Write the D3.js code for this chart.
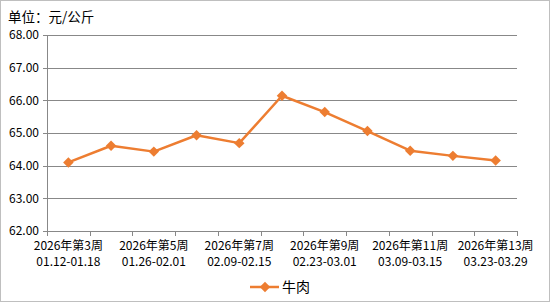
<!DOCTYPE html>
<html>
<head>
<meta charset="utf-8">
<script src="https://cdn.jsdelivr.net/npm/d3@7"></script>
<style>
  body { margin: 0; background: #fff; }
  svg text { font-family: "Noto Sans CJK SC", "DejaVu Sans", sans-serif; fill: #000; }
</style>
</head>
<body>
<svg id="chart"></svg>
<script>
// data
var weeks = ["2026年第3周", "2026年第4周", "2026年第5周", "2026年第6周", "2026年第7周", "2026年第8周",
             "2026年第9周", "2026年第10周", "2026年第11周", "2026年第12周", "2026年第13周"];
var ranges = ["01.12-01.18", "01.19-01.25", "01.26-02.01", "02.02-02.08", "02.09-02.15", "02.16-02.22",
              "02.23-03.01", "03.02-03.08", "03.09-03.15", "03.16-03.22", "03.23-03.29"];
var beef = [64.10, 64.61, 64.43, 64.93, 64.69, 66.14, 65.64, 65.06, 64.46, 64.30, 64.16];
var yTicks = [62, 63, 64, 65, 66, 67, 68];

var W = 550, H = 302;
var margin = { top: 35, right: 33, bottom: 71, left: 47 },
    width = W - margin.left - margin.right,
    height = H - margin.top - margin.bottom;

var svg = d3.select("#chart").attr("width", W).attr("height", H);

// outer border
svg.append("rect")
    .attr("x", 0.5).attr("y", 0.5)
    .attr("width", W - 1).attr("height", H - 1)
    .attr("fill", "#fff").attr("stroke", "#bfbfbf");

svg.append("text")
    .attr("x", 8).attr("y", 22)
    .attr("font-size", "13.5px")
    .text("单位：元/公斤");

var g = svg.append("g")
    .attr("transform", "translate(" + margin.left + "," + margin.top + ")");

var x = d3.scaleBand().domain(d3.range(weeks.length)).range([0, width]);
var y = d3.scaleLinear().domain([62, 68]).range([height, 0]);

// gridlines
g.selectAll(".grid")
    .data(yTicks)
    .enter().append("line")
    .attr("x1", -4).attr("x2", width)
    .attr("y1", function (d) { return Math.round(y(d)) + 0.5; })
    .attr("y2", function (d) { return Math.round(y(d)) + 0.5; })
    .attr("stroke", "#888");

// y labels
g.selectAll(".ylab")
    .data(yTicks)
    .enter().append("text")
    .attr("x", -8)
    .attr("y", function (d) { return y(d); })
    .attr("dy", "0.35em")
    .attr("text-anchor", "end")
    .attr("font-size", "12px")
    .text(function (d) { return d3.format(".2f")(d); });

// left axis line
g.append("line")
    .attr("x1", 0.5).attr("x2", 0.5)
    .attr("y1", 0).attr("y2", height)
    .attr("stroke", "#888");

// x ticks at band boundaries
var bounds = d3.range(weeks.length + 1);
g.selectAll(".xtick")
    .data(bounds)
    .enter().append("line")
    .attr("x1", function (d) { return Math.round(d * x.step()) + 0.5; })
    .attr("x2", function (d) { return Math.round(d * x.step()) + 0.5; })
    .attr("y1", height).attr("y2", height + 5)
    .attr("stroke", "#888");

// x labels, every other week, two separate lines
var shown = d3.range(0, weeks.length, 2);
g.selectAll(".xlab1")
    .data(shown)
    .enter().append("text")
    .attr("text-anchor", "middle")
    .attr("font-size", "12px")
    .attr("x", function (i) { return x(i) + x.bandwidth() / 2; })
    .attr("y", height + 19)
    .text(function (i) { return weeks[i]; });
g.selectAll(".xlab2")
    .data(shown)
    .enter().append("text")
    .attr("text-anchor", "middle")
    .attr("font-size", "12px")
    .attr("x", function (i) { return x(i) + x.bandwidth() / 2; })
    .attr("y", height + 35)
    .text(function (i) { return ranges[i]; });

var orange = "#ed7d31";

var line = d3.line()
    .x(function (d, i) { return x(i) + x.bandwidth() / 2; })
    .y(function (d) { return y(d); });

g.append("path")
    .datum(beef)
    .attr("fill", "none")
    .attr("stroke", orange)
    .attr("stroke-width", 2.5)
    .attr("stroke-linejoin", "round")
    .attr("d", line);

var diamond = d3.symbol().type(d3.symbolDiamond2).size(70);

g.selectAll(".pt")
    .data(beef)
    .enter().append("path")
    .attr("d", diamond)
    .attr("fill", orange)
    .attr("transform", function (d, i) {
        return "translate(" + (x(i) + x.bandwidth() / 2) + "," + y(d) + ")";
    });

// legend
var lg = svg.append("g").attr("transform", "translate(250,287)");
lg.append("line")
    .attr("x1", 0).attr("x2", 29)
    .attr("stroke", orange).attr("stroke-width", 2.5);
lg.append("path")
    .attr("d", diamond)
    .attr("fill", orange)
    .attr("transform", "translate(15,0)");
lg.append("text")
    .attr("x", 32).attr("y", 0).attr("dy", "0.35em")
    .attr("font-size", "14px")
    .text("牛肉");
</script>
</body>
</html>
